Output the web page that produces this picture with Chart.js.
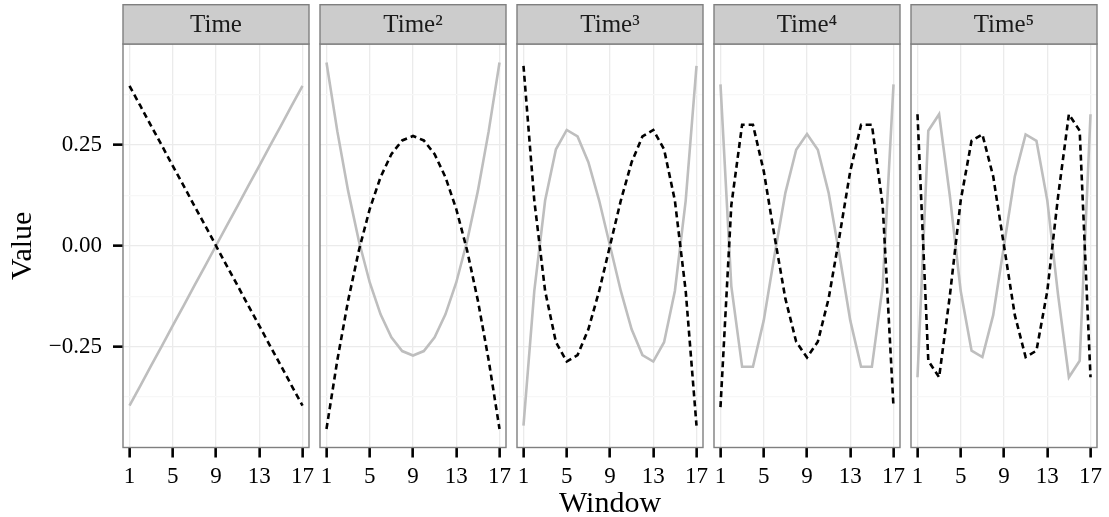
<!DOCTYPE html>
<html>
<head>
<meta charset="utf-8">
<script src="https://cdn.jsdelivr.net/npm/chart.js@4.4.1/dist/chart.umd.min.js"></script>
<style>
html,body{margin:0;padding:0;background:#ffffff;}
#wrap{position:relative;width:1109px;height:517px;overflow:hidden;background:#ffffff;}
#wrap canvas{position:absolute;top:0;}
</style>
</head>
<body>
<div id="wrap"></div>
<script>
// ---------------- data ----------------
const windows = [1,2,3,4,5,6,7,8,9,10,11,12,13,14,15,16,17];
const panelTitles = ["Time", "Time\u00B2", "Time\u00B3", "Time\u2074", "Time\u2075"];

const time1Grey   = [-0.396,-0.347,-0.297,-0.248,-0.198,-0.149,-0.099,-0.050,0.000,0.050,0.099,0.149,0.198,0.248,0.297,0.347,0.396];
const time1Dashed = [0.396,0.347,0.297,0.248,0.198,0.149,0.099,0.050,0.000,-0.050,-0.099,-0.149,-0.198,-0.248,-0.297,-0.347,-0.396];

const time2Grey   = [0.454,0.284,0.136,0.011,-0.091,-0.170,-0.227,-0.261,-0.272,-0.261,-0.227,-0.170,-0.091,0.011,0.136,0.284,0.454];
const time2Dashed = [-0.454,-0.284,-0.136,-0.011,0.091,0.170,0.227,0.261,0.272,0.261,0.227,0.170,0.091,-0.011,-0.136,-0.284,-0.454];

const time3Grey   = [-0.446,-0.112,0.112,0.239,0.287,0.271,0.207,0.112,0.000,-0.112,-0.207,-0.271,-0.287,-0.239,-0.112,0.112,0.446];
const time3Dashed = [0.446,0.112,-0.112,-0.239,-0.287,-0.271,-0.207,-0.112,0.000,0.112,0.207,0.271,0.287,0.239,0.112,-0.112,-0.446];

const time4Grey   = [0.400,-0.100,-0.300,-0.300,-0.185,-0.023,0.131,0.238,0.277,0.238,0.131,-0.023,-0.185,-0.300,-0.300,-0.100,0.400];
const time4Dashed = [-0.400,0.100,0.300,0.300,0.185,0.023,-0.131,-0.238,-0.277,-0.238,-0.131,0.023,0.185,0.300,0.300,0.100,-0.400];

const time5Grey   = [-0.326,0.285,0.326,0.122,-0.113,-0.260,-0.276,-0.172,0.000,0.172,0.276,0.260,0.113,-0.122,-0.326,-0.285,0.326];
const time5Dashed = [0.326,-0.285,-0.326,-0.122,0.113,0.260,0.276,0.172,0.000,-0.172,-0.276,-0.260,-0.113,0.122,0.326,0.285,-0.326];

const xTickValues = [1, 5, 9, 13, 17];
const yTickValues = [-0.25, 0, 0.25];
const yTickLabels = ["\u22120.25", "0.00", "0.25"];
const yMinorValues = [-0.375, -0.125, 0.125, 0.375];

const xTitle = "Window";
const yTitle = "Value";

const greySeries   = [time1Grey, time2Grey, time3Grey, time4Grey, time5Grey];
const dashedSeries = [time1Dashed, time2Dashed, time3Dashed, time4Dashed, time5Dashed];

// ---------------- layout / style ----------------
const FONT = '"Liberation Serif", "DejaVu Serif", serif';
const W = 1109, H = 517;
const panelLeft0 = 123, panelStep = 197, panelW = 186;
const stripTop = 4.7, panelTop = 44, panelBottom = 447.5;
const padRight = 20, padLeftOther = 20;

const facetPlugin = {
  id: 'facet',
  afterDatasetsDraw(chart, args, opts) {
    const ctx = chart.ctx, a = chart.chartArea;
    ctx.save();
    ctx.strokeStyle = '#7F7F7F';
    ctx.lineWidth = 1.4;
    ctx.strokeRect(a.left, a.top, a.right - a.left, a.bottom - a.top);
    ctx.fillStyle = '#CCCCCC';
    ctx.fillRect(a.left, stripTop, a.right - a.left, a.top - stripTop);
    ctx.strokeRect(a.left, stripTop, a.right - a.left, a.top - stripTop);
    ctx.fillStyle = '#1A1A1A';
    ctx.font = '25px ' + FONT;
    ctx.textAlign = 'center';
    ctx.textBaseline = 'middle';
    ctx.fillText(opts.title, (a.left + a.right) / 2, (stripTop + a.top) / 2 + 1);
    ctx.restore();
  }
};

const wrap = document.getElementById('wrap');

for (let k = 0; k < 5; k++) {
  const isFirst = k === 0;
  const panelL = panelLeft0 + panelStep * k;
  const leftSpace = isFirst ? panelLeft0 : padLeftOther;
  const canvasLeft = panelL - leftSpace;
  const cw = leftSpace + panelW + padRight;

  const canvas = document.createElement('canvas');
  canvas.width = cw; canvas.height = H;
  canvas.style.left = canvasLeft + 'px';
  canvas.style.width = cw + 'px';
  canvas.style.height = H + 'px';
  wrap.appendChild(canvas);

  const greyPts = windows.map((w, i) => ({x: w, y: greySeries[k][i]}));
  const dashPts = windows.map((w, i) => ({x: w, y: dashedSeries[k][i]}));

  new Chart(canvas, {
    type: 'line',
    data: {
      datasets: [
        { label: 'dashed', data: dashPts, borderColor: '#000000', borderWidth: 2.6,
          borderDash: [6, 4], pointRadius: 0, tension: 0, fill: false },
        { label: 'grey', data: greyPts, borderColor: '#BEBEBE', borderWidth: 2.6,
          pointRadius: 0, tension: 0, fill: false }
      ]
    },
    options: {
      responsive: false,
      animation: false,
      devicePixelRatio: 1,
      layout: { padding: { left: isFirst ? 0 : padLeftOther, right: padRight, top: panelTop, bottom: 0 } },
      plugins: {
        legend: { display: false },
        tooltip: { enabled: false },
        title: { display: false },
        facet: { title: panelTitles[k] }
      },
      scales: {
        x: {
          type: 'linear', min: 0.4, max: 17.6,
          afterBuildTicks: s => { s.ticks = xTickValues.map(v => ({value: v})); },
          afterFit: s => { s.height = H - panelBottom; },
          border: { display: false },
          grid: { color: '#EBEBEB', lineWidth: 1.3, drawTicks: true, tickLength: 10,
                  tickColor: '#000000', tickWidth: 2.6 },
          ticks: { autoSkip: false, maxRotation: 0, padding: 6, color: '#000000',
                   font: { family: FONT, size: 23 },
                   callback: v => String(v) },
          title: { display: k === 2, text: xTitle, color: '#000000',
                   font: { family: FONT, size: 30, lineHeight: 1 },
                   padding: { top: 0, bottom: -2 } }
        },
        y: {
          type: 'linear', min: -0.5, max: 0.5,
          afterBuildTicks: s => {
            s.ticks = yMinorValues.concat(yTickValues).sort((a, b) => a - b).map(v => ({value: v}));
          },
          afterFit: s => { s.width = isFirst ? panelLeft0 : 0; },
          border: { display: false },
          grid: {
            color: c => (yTickValues.includes(c.tick.value) ? '#EBEBEB' : '#F7F7F7'),
            lineWidth: 1.3,
            drawTicks: isFirst, tickLength: 10, tickWidth: 2.6,
            tickColor: c => (yTickValues.includes(c.tick.value) ? '#000000' : 'rgba(0,0,0,0)')
          },
          ticks: { display: isFirst, autoSkip: false, padding: 11, color: '#000000',
                   font: { family: FONT, size: 23 },
                   callback: v => { const i = yTickValues.indexOf(v); return i >= 0 ? yTickLabels[i] : ''; } },
          title: { display: isFirst, text: yTitle, color: '#000000',
                   font: { family: FONT, size: 30, lineHeight: 1 },
                   padding: { top: 8, bottom: 0 } }
        }
      }
    },
    plugins: [facetPlugin]
  });
}
</script>
</body>
</html>
